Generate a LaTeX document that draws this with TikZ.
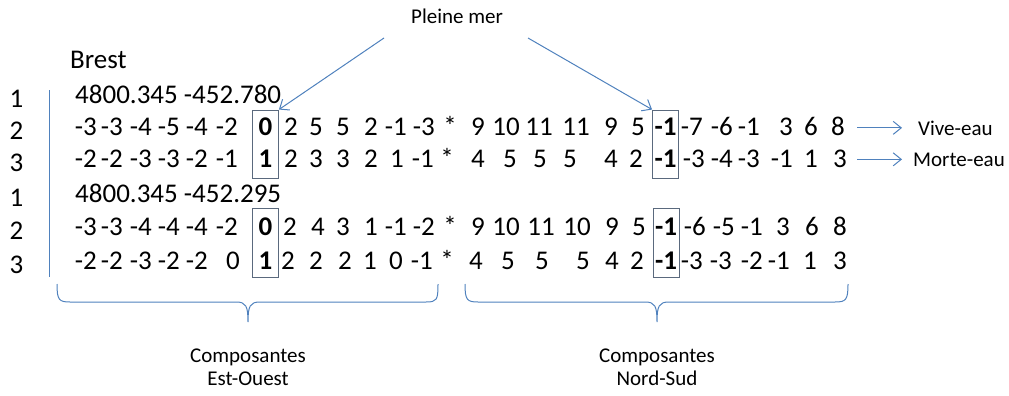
\documentclass[tikz,border=0pt]{standalone}
\usepackage{fontspec}
\setmainfont{Carlito}
\usetikzlibrary{arrows.meta}
\definecolor{lineblue}{RGB}{79,129,189}
\definecolor{boxgray}{RGB}{90,105,125}
\begin{document}
\begin{tikzpicture}[x=1pt,y=-1pt,
  tok/.style={anchor=base east,inner sep=0pt,font=\fontsize{27pt}{30pt}\selectfont},
  btok/.style={anchor=base,inner sep=0pt,font=\fontsize{27pt}{30pt}\selectfont\bfseries},
  big/.style={inner sep=0pt,font=\fontsize{27pt}{30pt}\selectfont},
  lbl/.style={inner sep=0pt,font=\fontsize{21pt}{24pt}\selectfont},
  hbox/.style={draw=boxgray,line width=0.9pt,minimum width=26pt,inner sep=0pt},
  conn/.style={draw=lineblue,line width=1pt},
  arr/.style={conn,-{Straight Barb[length=8pt,width=13pt]}}]
\useasboundingbox (0,0) rectangle (1009,396);

% header texts
\node[big,anchor=base west] (brest) at (70,68) {Brest};
\node[lbl,anchor=base] (pm) at (457,24) {Pleine mer};

% row numbers
\foreach \y/\t [count=\i] in {107/1,139/2,171/3,206/1,239/2,273/3}
  \node[big,anchor=base] (n\i) at (16.5,\y) {\t};
\draw[conn] (49,90) coordinate (vl1) -- (49,277) coordinate (vl2);

% coordinate lines
\node[big,anchor=base west] (c1) at (75,103) {4800.345 -452.780};
\node[big,anchor=base west] (c2) at (75,202) {4800.345 -452.295};

% highlighted boxes
\node[hbox,minimum height=68pt] (b1) at (265.5,144) {};
\node[hbox,minimum height=69pt] (b2) at (265.5,242.5) {};
\node[hbox,minimum height=68pt] (b3) at (665.5,144) {};
\node[hbox,minimum height=69pt] (b4) at (666,242.5) {};
\node[btok] (b1a) at (265.5,135) {0};
\node[btok] (b1b) at (265.5,167) {1};
\node[btok] (b2a) at (265.5,235) {0};
\node[btok] (b2b) at (265.5,269) {1};
\node[btok] (b3a) at (665.5,135) {-1};
\node[btok] (b3b) at (665.5,167) {-1};
\node[btok] (b4a) at (666,235) {-1};
\node[btok] (b4b) at (666,269) {-1};

% data rows
\foreach \x/\t [count=\i] in {97/-3,123/-3,152/-4,180/-5,208/-4,238/-2,298/2,323/5,350/5,378/2,407/-1,435/-3,457/*,485/9,520/10,553/11,590/11,618/9,645/5,703/-7,733/-6,760/-1,793/3,818/6,845/8}
  \node[tok] (ra\i) at (\x,135) {\t};
\foreach \x/\t [count=\i] in {97/-2,123/-2,152/-3,180/-3,208/-2,238/-1,298/2,323/3,350/3,378/2,404/1,434/-1,454/*,485/4,517/5,547/5,577/5,618/4,643/2,705/-3,733/-4,760/-3,793/-1,818/1,847/3}
  \node[tok] (rb\i) at (\x,167) {\t};
\foreach \x/\t [count=\i] in {97/-3,123/-3,152/-4,180/-4,208/-4,238/-2,297/2,325/4,350/3,378/1,407/-1,435/-2,457/*,485/9,520/10,555/11,591/10,619/9,646/5,706/-6,735/-5,763/-1,790/3,819/6,847/8}
  \node[tok] (rc\i) at (\x,235) {\t};
\foreach \x/\t [count=\i] in {97/-2,123/-2,152/-3,180/-2,208/-2,240/0,295/2,323/2,352/2,377/1,403/0,433/-1,454/*,483/4,515/5,549/5,590/5,619/4,644/2,703/-3,732/-3,763/-2,790/-1,817/1,847/3}
  \node[tok] (rd\i) at (\x,269) {\t};

% Pleine mer arrows
\coordinate (p1) at (384,38);
\coordinate (p2) at (528,38);
\draw[arr] (p1) -- (b1.north east);
\draw[arr] (p2) -- (b3.north west);

% right labels
\node[lbl,anchor=base west] (ve) at (918,135) {Vive-eau};
\node[lbl,anchor=base west] (me) at (913,166) {Morte-eau};
\draw[arr] ([xshift=-61pt]ve.west) -- ([xshift=-16pt]ve.west);
\draw[arr] ([xshift=-56pt]me.west) -- ([xshift=-11pt]me.west);

% braces
\draw[conn] (57,284) .. controls (57,300) and (59,302) .. (70,302) -- (236,302)
  .. controls (246,302) and (248,306) .. (248,322)
  .. controls (248,306) and (250,302) .. (260,302) -- (426,302)
  .. controls (437,302) and (438,300) .. (438,284);
\draw[conn] (465,284) .. controls (465,300) and (467,302) .. (478,302) -- (645,302)
  .. controls (655,302) and (657,306) .. (657,322)
  .. controls (657,306) and (659,302) .. (669,302) -- (835,302)
  .. controls (846,302) and (848,300) .. (848,284);

% bottom labels
\node[lbl,anchor=base] (ca) at (248,362) {Composantes};
\node[lbl,anchor=base] (cb) at (248,385) {Est-Ouest};
\node[lbl,anchor=base] (cc) at (657,362) {Composantes};
\node[lbl,anchor=base] (cd) at (657,385) {Nord-Sud};
\end{tikzpicture}
\end{document}
